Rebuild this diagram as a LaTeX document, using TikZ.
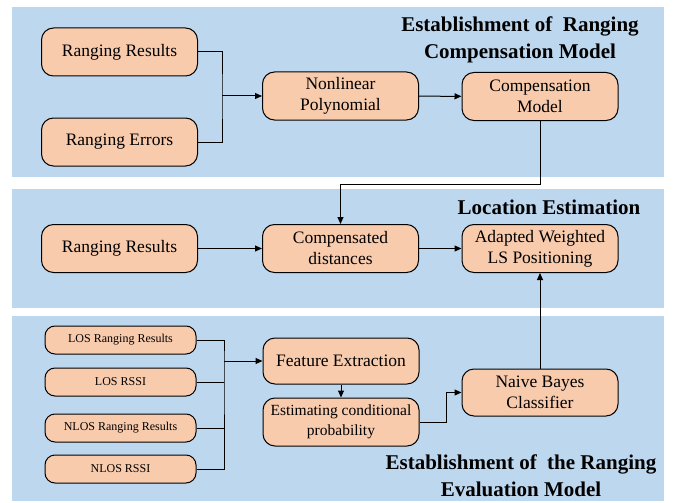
\documentclass[tikz,border=0pt]{standalone}
\usepackage{fontspec}
\setmainfont{Liberation Serif}
\usepackage{tikz}
\usetikzlibrary{arrows.meta}
\usepackage{xcolor}
\definecolor{panelblue}{HTML}{BDD7EE}
\definecolor{peach}{HTML}{F8CBAD}

\begin{document}
\begin{tikzpicture}[x=1pt, y=-1pt, line width=1pt,
    >={Triangle[length=7pt,width=6pt]},
    panel/.style={fill=panelblue, draw=none},
    block/.style={draw, fill=peach, rounded corners=12pt, align=center,
        minimum width=156pt, minimum height=48pt, inner sep=2pt,
        font=\fontsize{17.5}{21}\selectfont},
    smallblock/.style={block, minimum width=151pt, minimum height=28pt,
        rounded corners=10pt, font=\fontsize{12}{14}\selectfont},
    title/.style={align=center, font=\fontsize{21}{27}\selectfont\bfseries}]
    \useasboundingbox (0,0) rectangle (675,503);

    % Background panels
    \fill[panel] (12,7) rectangle (664,177);
    \fill[panel] (12,189) rectangle (664,308);
    \fill[panel] (12,316) rectangle (664,501);

    % Ranging compensation model
    \node[title] (t1) at (520,40) {Establishment of\ \ Ranging\\Compensation Model};
    \node[block] (rr1) at (119.5,52) {Ranging Results};
    \node[block] (re) at (119.5,142) {Ranging Errors};
    \node[block] (nlp) at (340.5,96) {Nonlinear\\Polynomial};
    \node[block] (cm) at (540,96.5) {Compensation\\Model};
    \coordinate (j1) at (222,96);
    \draw (rr1.east) -| (j1) |- (re.east);
    \draw[->] (j1) -- (nlp.west);
    \draw[->] (nlp) -- (cm);

    % Location estimation
    \node[title] (t2) at (549,207) {Location Estimation};
    \node[block] (rr2) at (119.5,248.5) {Ranging Results};
    \node[block] (cd) at (340.5,248.5) {Compensated\\distances};
    \node[block] (awls) at (540,248.5) {Adapted Weighted\\LS Positioning};
    \coordinate (bend) at (540,184);
    \draw[->] (cm.south) -- (bend) -| (cd.north);
    \draw[->] (rr2) -- (cd);
    \draw[->] (cd) -- (awls);

    % Ranging evaluation model
    \node[title] (t3) at (521,476) {Establishment of\ \ the Ranging\\Evaluation Model};
    \node[smallblock] (los1) at (120.5,340) {LOS Ranging Results};
    \node[smallblock] (los2) at (120.5,382) {LOS RSSI};
    \node[smallblock] (nlos1) at (120.5,428) {NLOS Ranging Results};
    \node[smallblock] (nlos2) at (120.5,469) {NLOS RSSI};
    \node[block, minimum height=46pt] (fe) at (341,361) {Feature Extraction};
    \node[block, font=\fontsize{15.5}{20}\selectfont] (ecp) at (341,422) {Estimating conditional\\probability};
    \node[block, minimum height=47pt] (nbc) at (540,392.5) {Naive Bayes\\Classifier};
    \coordinate (j3) at (224,361);
    \draw (los1.east) -| (j3) |- (nlos2.east);
    \draw (los2.east) -- (los2.east -| j3);
    \draw (nlos1.east) -- (nlos1.east -| j3);
    \draw[->] (j3) -- (fe.west);
    \draw[->] (fe) -- (ecp);
    \coordinate (j4) at (446,422);
    \draw[->] (ecp.east) -- (j4) |- (nbc.west);
    \draw[->] (nbc) -- (awls);
\end{tikzpicture}
\end{document}
